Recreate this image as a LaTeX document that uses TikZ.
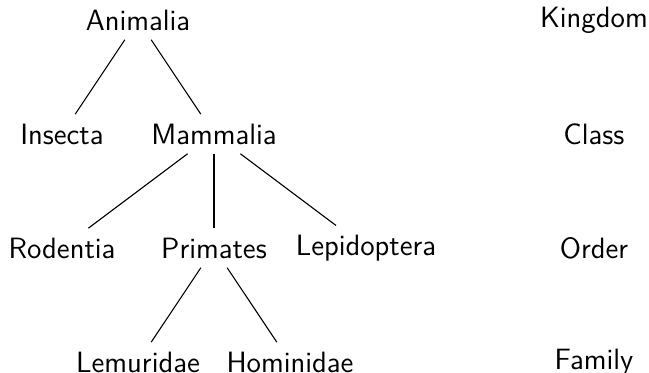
\documentclass[tikz,border=0pt]{standalone}
\usepackage{tikz}
\usetikzlibrary{positioning}
\tikzset{
  taxon/.style ={font=\fontsize{11}{13}\selectfont\sffamily},
  rank/.style  ={font=\fontsize{11}{13}\selectfont\sffamily},
  link/.style  ={draw=black},
}

\begin{document}
\begin{tikzpicture}[node distance=1.5cm and 1cm, on grid]

\useasboundingbox (-1.816,0.263) rectangle (6.724,-4.645);

% the tree
\node[taxon] (animalia) at (0,0) {Animalia};
\node[taxon, below left=of animalia]  (insecta)  {Insecta};
\node[taxon, below right=of animalia] (mammalia) {Mammalia};

\node[taxon, below left=1.5cm and 2cm of mammalia]  (rodentia)    {Rodentia};
\node[taxon, below=of mammalia]                     (primates)    {Primates};
\node[taxon, below right=1.5cm and 2cm of mammalia] (lepidoptera) {Lepidoptera};

\node[taxon, below left=of primates]  (lemuridae) {Lemuridae};
\node[taxon, below right=of primates] (hominidae) {Hominidae};

% ranks
\node[rank, right=6cm of animalia] (kingdom) {Kingdom};
\node[rank, below=of kingdom]      (class)   {Class};
\node[rank, below=of class]        (order)   {Order};
\node[rank, below=of order]        (family)  {Family};

\draw[link] (animalia) -- (insecta);
\draw[link] (animalia) -- (mammalia);
\draw[link] (mammalia) -- (rodentia);
\draw[link] (mammalia) -- (primates);
\draw[link] (mammalia) -- (lepidoptera);
\draw[link] (primates) -- (lemuridae);
\draw[link] (primates) -- (hominidae);

\end{tikzpicture}
\end{document}
